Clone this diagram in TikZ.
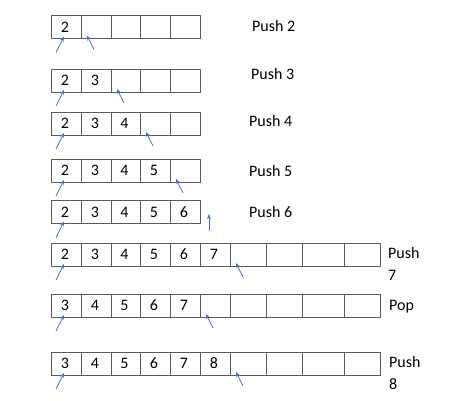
\documentclass[tikz,border=0pt]{standalone}
\usepackage{fontspec}
\setmainfont{Carlito}
\usetikzlibrary{arrows.meta,calc}
\definecolor{ptrblue}{HTML}{4472C4}
\definecolor{cellgray}{HTML}{5A5A5A}
\tikzset{
	cell/.style={draw=cellgray, line width=0.9pt, inner sep=0pt, outer sep=0pt, minimum height=23pt},
	digit/.style={inner sep=0pt, xshift=-1pt},
	ptr/.style={draw=ptrblue, line width=0.7pt, -{Stealth[length=5pt,width=4pt]}},
	oplabel/.style={anchor=base west, align=left, inner sep=0pt},
}
\def\shortedges{51/81,81/111,111/140,140/170,170/200}
\def\longedges{51/81,81/111,111/140,140/170,170/200,200/230,230/266,266/302,302/344,344/380}
\def\cellrow(#1:#2)#3{\foreach \l/\r [count=\i] in #3 \node[cell, minimum width={(\r-\l)*1pt}] (#1c\i) at ({(\l+\r)/2}, #2) {};}
\def\cellvals(#1)#2{\foreach \v [count=\i] in {#2} \node[digit] (#1n\i) at (#1c\i) {\v};}

\begin{document}
\begin{tikzpicture}[x=1pt, y=-1pt, font=\fontsize{16}{22}\selectfont]
		%%%%% START %%%%%
		\useasboundingbox (0, 0) rectangle (474, 401);
		
		\cellrow(r1:27)\shortedges
		\cellrow(r2:80.5)\shortedges
		\cellrow(r3:123.5)\shortedges
		\cellrow(r4:170.5)\shortedges
		\cellrow(r5:212)\shortedges
		\cellrow(r6:254.5)\longedges
		\cellrow(r7:305.5)\longedges
		\cellrow(r8:363.5)\longedges
		
		\cellvals(r1){2}
		\cellvals(r2){2,3}
		\cellvals(r3){2,3,4}
		\cellvals(r4){2,3,4,5}
		\cellvals(r5){2,3,4,5,6}
		\cellvals(r6){2,3,4,5,6,7}
		\cellvals(r7){3,4,5,6,7}
		\cellvals(r8){3,4,5,6,7,8}
		
		% bottom pointers
		\foreach \k in {1,...,8}
			\draw[ptr] ($(r\k c1.south west)+(5,14)$) -- ($(r\k c1.south west)+(13,-2)$);
		
		% top pointers
		\foreach \k/\c in {1/2,2/3,3/4,4/5,6/7,7/6,8/7}
			\draw[ptr] ($(r\k c\c.south west)+(13,11)$) -- ($(r\k c\c.south west)+(6,-3)$);
		\coordinate (full) at ($(r5c5.south east)+(9,7.5)$);
		\draw[ptr] (full) -- ($(r5c5.south east)+(9,-9.5)$);
		
		\node[oplabel] (l1) at (252, 32) {Push 2};
		\node[oplabel] (l2) at (251, 80) {Push 3};
		\node[oplabel] (l3) at (249, 127) {Push 4};
		\node[oplabel] (l4) at (249, 177) {Push 5};
		\node[oplabel] (l5) at (249, 217) {Push 6};
		\node[oplabel] (l6) at (388, 280) {Push\\7};
		\node[oplabel] (l7) at (389, 310) {Pop};
		\node[oplabel] (l8) at (389, 389) {Push\\8};
		
		%%%%% END %%%%%
\end{tikzpicture}
\end{document}
